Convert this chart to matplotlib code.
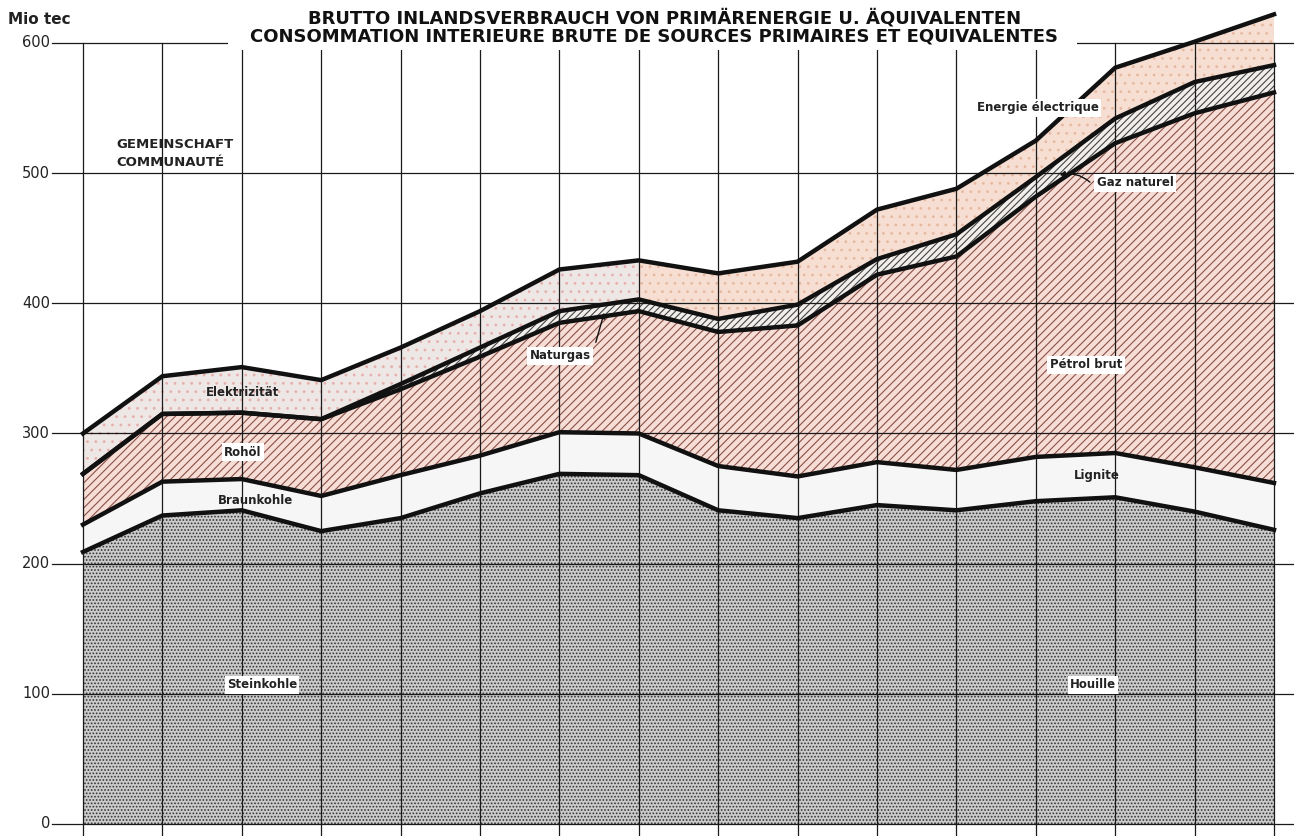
import numpy as np
import matplotlib
matplotlib.use("Agg")
import matplotlib.pyplot as plt
from matplotlib.patches import Rectangle

# ---------------- data (Mio tec) ----------------
years = list(range(1950, 1966))
steinkohle = [209, 237, 241, 225, 235, 254, 269, 268, 241, 235, 245, 241, 248, 251, 240, 226]
braunkohle = [21, 26, 24, 27, 33, 29, 32, 32, 34, 32, 33, 31, 34, 34, 34, 36]
rohoel     = [39, 52, 51, 59, 66, 76, 84, 94, 103, 116, 144, 164, 200, 238, 272, 300]
naturgas   = [0, 0, 0, 0, 4, 7, 9, 9, 10, 16, 12, 17, 15, 19, 24, 21]
elektrizitaet = [31, 29, 35, 30, 28, 28, 32, 30, 35, 33, 38, 35, 28, 39, 31, 39]
yticks = [0, 100, 200, 300, 400, 500, 600]

title1 = "BRUTTO INLANDSVERBRAUCH VON PRIMÄRENERGIE U. ÄQUIVALENTEN"
title2 = "CONSOMMATION INTERIEURE BRUTE DE SOURCES PRIMAIRES ET EQUIVALENTES"

# ---------------- figure ----------------
plt.rcParams['hatch.linewidth'] = 0.8
fig = plt.figure(figsize=(12.94, 8.36), dpi=100)
ax = fig.add_axes([0, 0, 1, 1])
ax.set_axis_off()

x = np.array(years, dtype=float)
c1 = np.array(steinkohle, dtype=float)
c2 = c1 + np.array(braunkohle)
c3 = c2 + np.array(rohoel)
c4 = c3 + np.array(naturgas)
c5 = c4 + np.array(elektrizitaet)

px = 79.4  # pixels per year
x0 = years[0]
def xp(p):
    return x0 + (p - 83) / px
def yp(p):
    return (824 - p) / 1.3017

ax.set_xlim(xp(0), xp(1294))
ax.set_ylim(yp(836), yp(0))

# fills
ax.fill_between(x, 0, c1, facecolor='#cbcbcb', edgecolor='#333333', hatch='.....', linewidth=0, zorder=1)
ax.fill_between(x, c1, c2, facecolor='#f6f6f6', linewidth=0, zorder=1)
ax.fill_between(x, c2, c3, facecolor='#f6ddd5', edgecolor='#8a5048', hatch='////', linewidth=0, zorder=1)
ax.fill_between(x, c3, c4, facecolor='#f1eeec', edgecolor='#444444', hatch='/////', linewidth=0, zorder=1)
ax.fill_between(x, c4, c5, where=x <= 1957, interpolate=True, facecolor='#ede7e6', edgecolor='#e6b0ae', hatch='..', linewidth=0, zorder=1)
ax.fill_between(x, c4, c5, where=x >= 1957, interpolate=True, facecolor='#f6dfd2', edgecolor='#e8b8a0', hatch='..', linewidth=0, zorder=1)

# grid
gl = dict(color='#1a1a1a', linewidth=0.9, zorder=2)
for v in yticks:
    ax.plot([xp(52), xp(1294)], [v, v], **gl)
for yr in years:
    ax.plot([yr, yr], [yp(836), 600], **gl)

# boundaries
for c in (c1, c2, c3, c4, c5):
    ax.plot(x, c, color='#111111', linewidth=3.2, solid_joinstyle='miter', zorder=3)

# white title area
ax.add_patch(Rectangle((xp(228), yp(50)), xp(1077) - xp(228), yp(0) - yp(50),
                       facecolor='white', edgecolor='none', zorder=4))

# tick labels
for v in yticks:
    ax.text(xp(50), v, str(v), ha='right', va='center', fontsize=10.5,
            color='#222222', family='DejaVu Sans', zorder=5)
fig.text(8 / 1294, 1 - 19 / 836, "Mio tec", ha='left', va='center', fontsize=11,
         fontweight='semibold', color='#222222')

# titles
fig.text(665 / 1294, 1 - 18 / 836, title1, ha='center', va='center', fontsize=13,
         fontweight='bold', color='#111111')
fig.text(653.5 / 1294, 1 - 37 / 836, title2, ha='center', va='center', fontsize=13,
         fontweight='bold', color='#111111')

ax.text(xp(116), yp(144), "GEMEINSCHAFT", ha='left', va='center', fontsize=9.5,
        fontweight='bold', color='#222222', zorder=5)
ax.text(xp(116), yp(162), "COMMUNAUTÉ", ha='left', va='center', fontsize=9.5,
        fontweight='bold', color='#222222', zorder=5)

# area labels
lab = dict(ha='center', va='center', fontsize=8.5, fontweight='bold', color='#222222', zorder=6)
box = dict(boxstyle='square,pad=0.2', facecolor='white', edgecolor='none')
ax.text(xp(262), yp(685), "Steinkohle", bbox=box, **lab)
ax.text(xp(1093), yp(685), "Houille", bbox=box, **lab)
ax.text(xp(255), yp(500), "Braunkohle", **lab)
ax.text(xp(1097), yp(476), "Lignite", **lab)
ax.text(xp(243), yp(452), "Rohöl", bbox=box, **lab)
ax.text(xp(1086), yp(365), "Pétrol brut", bbox=box, **lab)
ax.text(xp(243), yp(393), "Elektrizität", **lab)
ax.text(xp(1038), yp(108), "Energie électrique", bbox=box, **lab)
ax.text(xp(560), yp(356), "Naturgas", bbox=box, **lab)
ax.text(xp(1135), yp(183), "Gaz naturel", bbox=box, **lab)

arr = dict(arrowstyle='-|>', color='#111111', lw=1.0, mutation_scale=8)
ax.annotate("", xy=(xp(605), yp(310)), xytext=(xp(595), yp(345)), arrowprops=arr, zorder=6)
ax.annotate("", xy=(xp(1057), yp(176)), xytext=(xp(1092), yp(184)),
            arrowprops=dict(arr, connectionstyle='arc3,rad=0.3'), zorder=6)

fig.savefig("out.png", dpi=100, facecolor='white')
